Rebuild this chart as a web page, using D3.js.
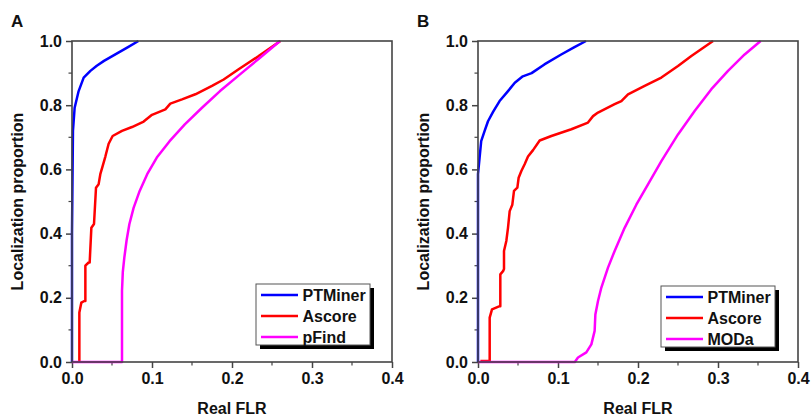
<!DOCTYPE html>
<html><head><meta charset="utf-8">
<script src="https://cdn.jsdelivr.net/npm/d3@7"></script>
<style>html,body{margin:0;padding:0;background:#fff;}svg{display:block;font-family:"Liberation Sans",Arial,sans-serif;font-weight:bold;}</style>
</head><body>
<svg id="chart" width="812" height="417"></svg>
<script>
// ---------- data ----------
const xTicks = [0, 0.1, 0.2, 0.3, 0.4];
const yTicks = [0, 0.2, 0.4, 0.6, 0.8, 1.0];
const seriesNamesA = ["PTMiner", "Ascore", "pFind"];
const seriesNamesB = ["PTMiner", "Ascore", "MODa"];
const colors = ["#0000ff", "#ff0000", "#ff00ff"];

// Panel A
const ptminerA_x = [0, 0, 0.0012, 0.0033, 0.0083, 0.0146, 0.023, 0.031, 0.040, 0.058, 0.070, 0.083];
const ptminerA_y = [0, 0.40, 0.72, 0.792, 0.844, 0.886, 0.907, 0.923, 0.938, 0.964, 0.981, 1.0];
const ascoreA_x = [0.0092, 0.0092, 0.0117, 0.0154, 0.0167, 0.0167, 0.0208, 0.0221, 0.0242, 0.0275, 0.030, 0.0333, 0.0354, 0.0383, 0.0417, 0.0458, 0.0508, 0.0625, 0.075, 0.0896, 0.100, 0.1167, 0.1229, 0.1375, 0.1542, 0.175, 0.1896, 0.2083, 0.2333, 0.2604];
const ascoreA_y = [0, 0.154, 0.185, 0.19, 0.19, 0.30, 0.31, 0.31, 0.418, 0.43, 0.543, 0.554, 0.585, 0.61, 0.64, 0.68, 0.704, 0.72, 0.732, 0.749, 0.77, 0.787, 0.805, 0.818, 0.834, 0.86, 0.88, 0.912, 0.953, 1.0];
const pfindA_x = [0, 0.0625, 0.0625, 0.0635, 0.0654, 0.0683, 0.0717, 0.077, 0.0846, 0.094, 0.106, 0.122, 0.141, 0.1625, 0.185, 0.21, 0.235, 0.26];
const pfindA_y = [0, 0, 0.221, 0.28, 0.325, 0.38, 0.429, 0.48, 0.533, 0.585, 0.637, 0.688, 0.74, 0.792, 0.844, 0.896, 0.948, 1.0];

// Panel B
const ptminerB_x = [0, 0, 0.002, 0.004, 0.0083, 0.0125, 0.019, 0.027, 0.0375, 0.046, 0.056, 0.067, 0.083, 0.104, 0.12, 0.135];
const ptminerB_y = [0, 0.585, 0.637, 0.688, 0.72, 0.75, 0.78, 0.813, 0.844, 0.87, 0.89, 0.90, 0.927, 0.958, 0.98, 1.0];
const ascoreB_x = [0.003, 0.0146, 0.0146, 0.0175, 0.0271, 0.0279, 0.0279, 0.0313, 0.0325, 0.0325, 0.0354, 0.0375, 0.0396, 0.0429, 0.045, 0.0492, 0.0508, 0.0542, 0.0583, 0.0625, 0.0688, 0.0771, 0.0917, 0.1167, 0.1375, 0.1438, 0.15, 0.1708, 0.1792, 0.1875, 0.2083, 0.2292, 0.25, 0.2667, 0.2938];
const ascoreB_y = [0.003, 0.003, 0.138, 0.164, 0.174, 0.174, 0.273, 0.283, 0.29, 0.346, 0.377, 0.418, 0.47, 0.49, 0.533, 0.543, 0.574, 0.595, 0.616, 0.64, 0.66, 0.69, 0.704, 0.725, 0.746, 0.766, 0.777, 0.803, 0.813, 0.834, 0.86, 0.886, 0.922, 0.953, 1.0];
const modaB_x = [0, 0.121, 0.125, 0.1354, 0.1417, 0.1458, 0.1467, 0.15, 0.1542, 0.1625, 0.1708, 0.1833, 0.1979, 0.2125, 0.2292, 0.25, 0.2708, 0.2917, 0.3125, 0.3333, 0.3533];
const modaB_y = [0, 0, 0.014, 0.03, 0.055, 0.097, 0.148, 0.19, 0.232, 0.294, 0.346, 0.418, 0.49, 0.553, 0.626, 0.709, 0.782, 0.85, 0.907, 0.958, 1.0];

const panels = [
  {label: "A", left: 72, names: seriesNamesA,
   xs: [ptminerA_x, ascoreA_x, pfindA_x], ys: [ptminerA_y, ascoreA_y, pfindA_y],
   legend: {x: 256, y: 284}},
  {label: "B", left: 478, names: seriesNamesB,
   xs: [ptminerB_x, ascoreB_x, modaB_x], ys: [ptminerB_y, ascoreB_y, modaB_y],
   legend: {x: 661, y: 286}}
];

// ---------- drawing ----------
const svg = d3.select("#chart");
const W = 320, plotTop = 41, H = 321;
const axisColor = "#444";

panels.forEach(p => {
  const g = svg.append("g").attr("transform", `translate(${p.left},${plotTop})`);
  const x = d3.scaleLinear().domain([0, 0.4]).range([0, W]);
  const y = d3.scaleLinear().domain([0, 1]).range([H, 0]);

  // minor ticks
  const xMinor = d3.range(0.05, 0.4, 0.1);
  const yMinor = d3.range(0.1, 1.0, 0.2);
  g.append("g").selectAll("line").data(xMinor).join("line")
    .attr("x1", d => x(d)).attr("x2", d => x(d)).attr("y1", H).attr("y2", H + 3.5)
    .attr("stroke", axisColor).attr("stroke-width", 1.2);
  g.append("g").selectAll("line").data(yMinor).join("line")
    .attr("y1", d => y(d)).attr("y2", d => y(d)).attr("x1", 0).attr("x2", -3.5)
    .attr("stroke", axisColor).attr("stroke-width", 1.2);

  // axes
  const xa = g.append("g").attr("transform", `translate(0,${H})`)
    .call(d3.axisBottom(x).tickValues(xTicks).tickFormat(d3.format(".1f")).tickSize(6).tickPadding(5));
  const ya = g.append("g")
    .call(d3.axisLeft(y).tickValues(yTicks).tickFormat(d3.format(".1f")).tickSize(6).tickPadding(4));
  [xa, ya].forEach(a => {
    a.select(".domain").remove();
    a.selectAll("line").attr("stroke", axisColor).attr("stroke-width", 1.5);
    a.selectAll("text").attr("fill", "#111").style("font-size", "16px").style("font-weight", "bold")
      .style("font-family", '"Liberation Sans", Arial, sans-serif');
  });

  // lines
  const line = d3.line().x(d => x(d[0])).y(d => y(d[1]));
  p.xs.forEach((xs, i) => {
    const data = xs.map((v, k) => [v, p.ys[i][k]]);
    g.append("path").datum(data).attr("d", line)
      .attr("fill", "none").attr("stroke", colors[i]).attr("stroke-width", 2.5)
      .attr("stroke-linejoin", "round");
  });

  // frame
  g.append("rect").attr("x", 0).attr("y", 0).attr("width", W).attr("height", H)
    .attr("fill", "none").attr("stroke", axisColor).attr("stroke-width", 1.6);

  // titles
  g.append("text").attr("x", W / 2).attr("y", 373).attr("text-anchor", "middle")
    .style("font-size", "16px").attr("fill", "#111").text("Real FLR");
  g.append("text").attr("transform", `translate(-49,${H / 2}) rotate(-90)`)
    .attr("text-anchor", "middle").style("font-size", "16px").attr("fill", "#111")
    .text("Localization proportion");
  g.append("text").attr("x", -61).attr("y", -14).style("font-size", "17px").attr("fill", "#111").text(p.label);

  // legend
  const lg = svg.append("g").attr("transform", `translate(${p.legend.x},${p.legend.y})`);
  const lw = 114, lh = 61;
  lg.append("rect").attr("x", 4).attr("y", 4).attr("width", lw).attr("height", lh).attr("fill", "#000");
  lg.append("rect").attr("x", 0).attr("y", 0).attr("width", lw).attr("height", lh)
    .attr("fill", "#fff").attr("stroke", "#555").attr("stroke-width", 1);
  p.names.forEach((n, i) => {
    const yy = 11 + i * 21;
    lg.append("line").attr("x1", 5).attr("x2", 42).attr("y1", yy).attr("y2", yy)
      .attr("stroke", colors[i]).attr("stroke-width", 2.5);
    lg.append("text").attr("x", 46.5).attr("y", yy).attr("dy", "0.36em")
      .style("font-size", "16px").attr("fill", "#111").text(n);
  });
});
</script>
</body></html>
